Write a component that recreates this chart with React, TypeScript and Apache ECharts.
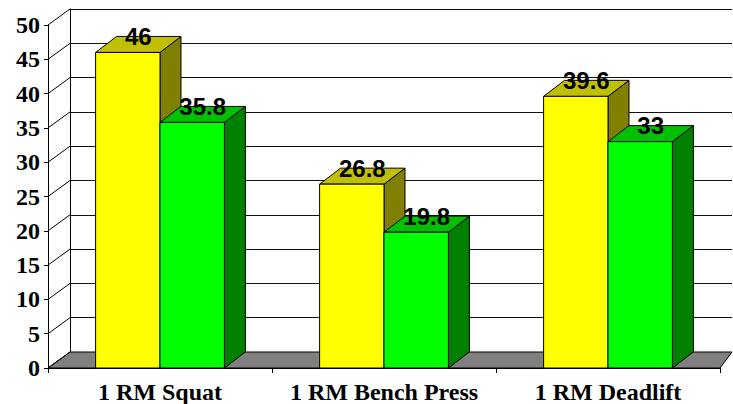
import React, { useEffect, useRef } from "react";
import * as echarts from "echarts";

const categories = ["1 RM Squat", "1 RM Bench Press", "1 RM Deadlift"];
const seriesYellow = [46, 26.8, 39.6];
const seriesGreen = [35.8, 19.8, 33];
const yTicks = [0, 5, 10, 15, 20, 25, 30, 35, 40, 45, 50];

const DX = 21;
const DY = 16;
const BAR_RATIO = 0.2875;

function makeBarSeries(values: number[], side: number, front: string, top: string, dark: string) {
  return {
    type: "custom",
    xAxisIndex: 0,
    yAxisIndex: 0,
    z: 3,
    data: values.map((v, i) => [i, v]),
    encode: { x: 0, y: 1 },
    renderItem: (params: any, api: any) => {
      const idx = api.value(0);
      const val = api.value(1);
      const t = api.coord([idx, val]);
      const b = api.coord([idx, 0]);
      const catW = api.size([1, 0])[0];
      const bw = catW * BAR_RATIO;
      const x0 = side === 0 ? t[0] - bw : t[0];
      const x1 = x0 + bw;
      const yT = t[1];
      const yB = b[1];
      const stroke = { stroke: "#000", lineWidth: 1 };
      return {
        type: "group",
        children: [
          {
            type: "polygon",
            shape: { points: [[x1, yT], [x1, yB], [x1 + DX, yB - DY], [x1 + DX, yT - DY]] },
            style: { fill: dark, ...stroke },
          },
          {
            type: "polygon",
            shape: { points: [[x0, yT], [x1, yT], [x1 + DX, yT - DY], [x0 + DX, yT - DY]] },
            style: { fill: top, ...stroke },
          },
          {
            type: "rect",
            shape: { x: x0, y: yT, width: bw, height: yB - yT },
            style: { fill: front, ...stroke },
          },
          {
            type: "text",
            z2: 10,
            style: {
              text: String(val),
              x: (x0 + x1) / 2 + DX / 2,
              y: yT - DY,
              align: "center",
              verticalAlign: "middle",
              fontFamily: "Liberation Sans",
              fontWeight: "bold",
              fontSize: 24,
              fill: "#000",
            },
          },
        ],
      };
    },
  };
}

export default function App() {
  const ref = useRef<HTMLDivElement>(null);
  useEffect(() => {
    if (!ref.current) return;
    const chart = echarts.init(ref.current, undefined, { renderer: "svg" });
    const serif = "Liberation Serif";
    chart.setOption({
      animation: false,
      backgroundColor: "#fff",
      grid: [
        { left: 48, right: 13, top: 25, bottom: 36 },
        { left: 70, right: 1, top: 9, bottom: 52 },
      ],
      xAxis: [
        {
          type: "category",
          gridIndex: 0,
          data: categories,
          boundaryGap: true,
          axisLine: { show: true, lineStyle: { color: "#000", width: 1 } },
          axisTick: { show: true, length: 5, lineStyle: { color: "#000" } },
          axisLabel: {
            interval: 0,
            color: "#000",
            fontFamily: serif,
            fontWeight: "bold",
            fontSize: 24,
            margin: 12,
          },
          splitLine: { show: false },
          z: 5,
        },
        {
          type: "value",
          gridIndex: 1,
          min: 0,
          max: 1,
          show: false,
        },
      ],
      yAxis: [
        {
          type: "value",
          gridIndex: 0,
          min: 0,
          max: 50,
          interval: 5,
          axisLine: { show: true, lineStyle: { color: "#000", width: 1 } },
          axisTick: { show: true, length: 4, lineStyle: { color: "#000" } },
          axisLabel: {
            color: "#000",
            fontFamily: serif,
            fontWeight: "bold",
            fontSize: 24,
            margin: 8,
          },
          splitLine: { show: false },
          z: 5,
        },
        {
          type: "value",
          gridIndex: 1,
          min: 0,
          max: 50,
          interval: 5,
          axisLine: { show: true, lineStyle: { color: "#000", width: 1 } },
          axisTick: { show: false },
          axisLabel: { show: false },
          splitLine: { show: true, lineStyle: { color: "#111", width: 1 } },
        },
      ],
      series: [
        {
          type: "custom",
          xAxisIndex: 0,
          yAxisIndex: 0,
          z: 1,
          silent: true,
          data: yTicks.map((v) => [0, v]),
          encode: { x: 0, y: 1 },
          renderItem: (params: any, api: any) => {
            const cs = params.coordSys;
            const v = api.value(1);
            const p = api.coord([0, v]);
            const y = p[1];
            const children: any[] = [];
            if (v === 0) {
              children.push({
                type: "polygon",
                shape: {
                  points: [
                    [cs.x, y],
                    [cs.x + cs.width, y],
                    [cs.x + cs.width + 12, y - DY],
                    [cs.x + DX + 1, y - DY],
                  ],
                },
                style: { fill: "#808080", stroke: "#000", lineWidth: 1 },
              });
            }
            children.push({
              type: "line",
              shape: { x1: cs.x, y1: y, x2: cs.x + DX + 1, y2: y - DY },
              style: { stroke: "#000", lineWidth: 1 },
            });
            return { type: "group", children };
          },
        },
        makeBarSeries(seriesYellow, 0, "#FFFF00", "#C0C000", "#808000"),
        makeBarSeries(seriesGreen, 1, "#00FF00", "#00C000", "#008000"),
      ],
    });
    return () => chart.dispose();
  }, []);
  return (
    <div
      ref={ref}
      style={{ position: "fixed", left: 0, top: 0, width: 733, height: 404, background: "#fff" }}
    />
  );
}
